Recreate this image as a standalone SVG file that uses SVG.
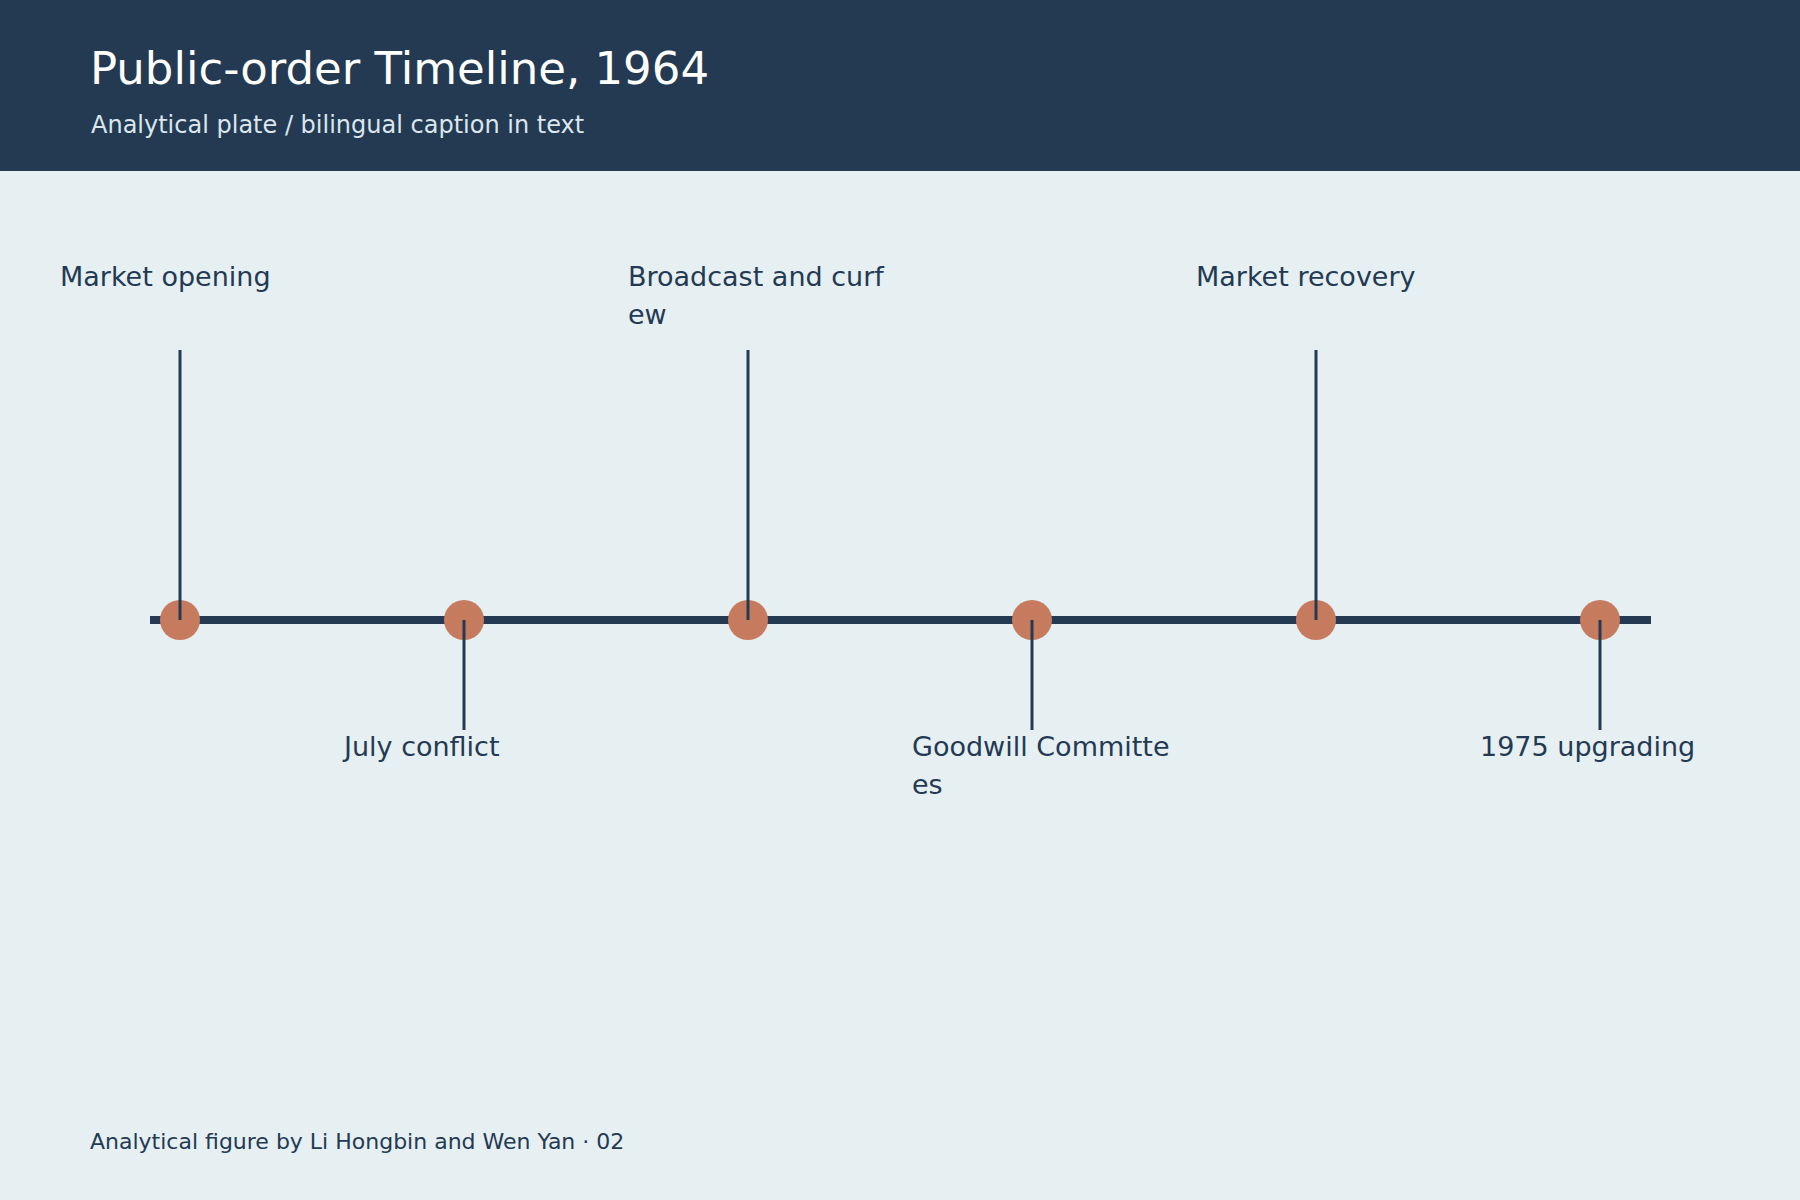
<svg xmlns="http://www.w3.org/2000/svg" width="1800" height="1200" viewBox="0 0 1800 1200">
<style>
.bg{fill:#e6eff2}
.hdr{fill:#243a52}
.title{font-family:"DejaVu Sans",sans-serif;font-size:45px;fill:#ffffff}
.sub{font-family:"DejaVu Sans",sans-serif;font-size:24px;fill:#dbe6ee}
.lbl{font-family:"DejaVu Sans",sans-serif;font-size:27px;fill:#243a52}
.foot{font-family:"DejaVu Sans",sans-serif;font-size:22px;fill:#243a52}
.dot{fill:#c77b5e}
.axis{stroke:#243a52;stroke-width:8}
.conn{stroke:#243a52;stroke-width:3;fill:none}
</style>
<rect class="bg" x="0" y="0" width="1800" height="1200"/>
<rect class="hdr" x="0" y="0" width="1800" height="171"/>
<text class="title" x="90" y="84">Public-order Timeline, 1964</text>
<text class="sub" x="91" y="133">Analytical plate / bilingual caption in text</text>
<line id="axis" class="axis" x1="150" y1="620" x2="1651" y2="620"/>
<g id="event-1"><circle class="dot" cx="180" cy="620" r="20"/><text class="lbl" x="60" y="286">Market opening</text></g>
<g id="event-2"><circle class="dot" cx="464" cy="620" r="20"/><text class="lbl" x="344" y="756">July conflict</text></g>
<g id="event-3"><circle class="dot" cx="748" cy="620" r="20"/><text class="lbl" x="628" y="286">Broadcast and curf</text><text class="lbl" x="628" y="324">ew</text></g>
<g id="event-4"><circle class="dot" cx="1032" cy="620" r="20"/><text class="lbl" x="912" y="756">Goodwill Committe</text><text class="lbl" x="912" y="794">es</text></g>
<g id="event-5"><circle class="dot" cx="1316" cy="620" r="20"/><text class="lbl" x="1196" y="286">Market recovery</text></g>
<g id="event-6"><circle class="dot" cx="1600" cy="620" r="20"/><text class="lbl" x="1480" y="756">1975 upgrading</text></g>
<g id="connectors">
<line class="conn" x1="180" y1="350" x2="180" y2="620"/>
<line class="conn" x1="464" y1="620" x2="464" y2="730"/>
<line class="conn" x1="748" y1="350" x2="748" y2="620"/>
<line class="conn" x1="1032" y1="620" x2="1032" y2="730"/>
<line class="conn" x1="1316" y1="350" x2="1316" y2="620"/>
<line class="conn" x1="1600" y1="620" x2="1600" y2="730"/>
</g>
<text class="foot" x="90" y="1149">Analytical figure by Li Hongbin and Wen Yan · 02</text>
</svg>
